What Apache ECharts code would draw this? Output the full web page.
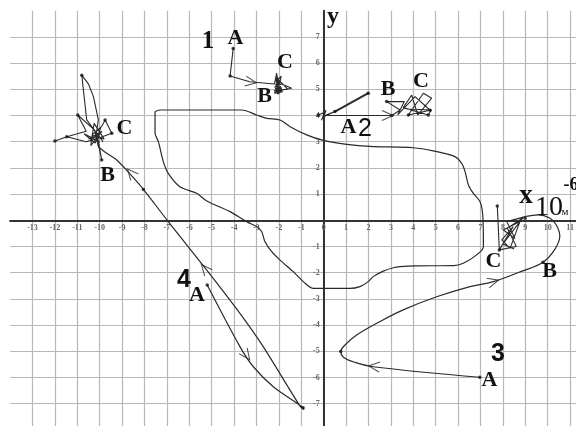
<!DOCTYPE html>
<html>
<head>
<meta charset="utf-8">
<script src="https://cdn.jsdelivr.net/npm/echarts@6/dist/echarts.min.js"></script>
<style>
  html, body { margin: 0; padding: 0; background: #fff; }
  #main { width: 576px; height: 426px; }
</style>
</head>
<body>
<div id="main"></div>
<script>
// axis ranges (units of 10^-6 m)
var xMin = -14, xMax = 12;
var yMin = -8, yMax = 8;

// big closed contour
var loop = [[-7.53,4.15],[-7.31,4.21],[-3.66,4.21],[-2.99,4.02],[-2.54,3.89],[-1.95,3.83],[-1.50,3.57],
  [-0.76,3.26],[-0.02,3.05],[1.03,2.90],[2.07,2.82],[4.0,2.77],[4.89,2.65],[5.86,2.43],[6.16,2.17],
  [6.31,1.86],[6.46,1.35],[6.68,1.03],[6.98,0.71],[7.10,0.20],[7.13,-1.01],[6.83,-1.32],[6.23,-1.64],
  [5.79,-1.73],[4.15,-1.74],[3.41,-1.77],[3.11,-1.81],[2.66,-1.94],[2.21,-2.15],[1.99,-2.34],[1.62,-2.53],
  [1.17,-2.60],[-0.46,-2.60],[-0.91,-2.34],[-1.36,-1.96],[-1.95,-1.52],[-2.32,-1.20],[-2.62,-0.82],
  [-2.77,-0.43],[-2.99,-0.24],[-3.44,-0.05],[-4.18,0.33],[-5.22,0.74],[-5.67,1.03],[-6.42,1.28],
  [-6.94,1.79],[-7.16,2.24],[-7.38,3.0],[-7.53,3.32],[-7.53,4.02],[-7.53,4.15]];

// trajectory 1
var path1 = [[-4.04,6.56],[-4.18,5.51],[-3.3,5.29],[-2.2,5.2],[-2.1,5.62],[-2.02,4.85],[-2.14,5.45],
  [-1.92,4.95],[-2.12,5.3],[-1.9,5.5],[-2.05,4.82],[-2.18,5.1],[-1.88,5.2],[-1.43,5.04],[-2.0,4.95],
  [-2.17,4.9],[-1.95,5.35],[-2.08,5.0],[-2.2,4.85],[-1.85,4.9],[-2.1,5.55],[-1.98,4.88],[-2.15,5.2],
  [-1.9,4.92],[-2.22,4.95],[-1.6,5.0],[-2.05,5.4],[-2.0,4.82],[-2.12,4.98],[-1.87,5.05]];

// trajectory 2
var path2 = [[-0.24,4.02],[0.05,4.12],[-0.1,3.82],[0.1,4.2],[0.0,3.95],[0.5,4.15],[0.05,4.0],[3.04,4.0],
  [3.41,4.21],[2.81,4.53],[3.6,4.53],[3.3,4.02],[4.08,4.72],[4.75,4.2],[3.78,4.02],[4.45,4.85],[4.82,4.66],
  [4.2,4.02],[3.93,4.78],[3.55,4.3],[4.67,4.02],[4.8,4.21],[3.7,4.25]];
var spur2 = [[0.5,4.15],[1.99,4.85]];

// trajectory 3
var path3 = [[6.97,-5.99],[2.21,-5.59],[1.32,-5.40],[0.88,-5.23],[0.76,-5.01],[0.95,-4.76],[1.47,-4.38],
  [2.37,-3.93],[3.55,-3.42],[5.04,-2.92],[6.53,-2.53],[7.57,-2.34],[8.82,-1.95],[9.79,-1.60],[10.31,-1.12],
  [10.54,-0.61],[10.38,-0.17],[10.09,0.09],[9.57,0.21],[9.04,0.15]];
var knot3 = [[9.04,0.15],[8.99,0.08],[8.17,-0.05],[8.54,-0.69],[8.02,-0.37],[8.76,-0.05],[8.32,-1.07],
  [7.95,-0.75],[8.46,-0.24],[7.84,-1.13],[7.75,0.55],[7.84,-1.13],[8.6,-1.0],[8.2,-0.3],[8.9,0.1],
  [8.0,-0.9],[8.5,-1.1]];

// trajectory 4
var path4 = [[-5.20,-2.47],[-3.74,-4.82],[-3.14,-5.59],[-2.25,-6.35],[-0.98,-7.11],[-0.88,-7.22],
  [-1.06,-7.09],[-2.70,-4.82],[-3.74,-3.55],[-5.22,-1.90],[-6.94,-0.05],[-8.05,1.18],[-8.65,1.77],
  [-9.24,2.30],[-9.69,2.56],[-10.06,2.81]];
var knot4 = [[-10.06,2.81],[-10.2,3.35],[-9.9,3.6],[-9.76,3.83],[-9.46,3.32],[-10.0,3.15],[-10.6,3.0],
  [-11.47,3.19],[-12.0,3.03],[-11.47,3.19],[-10.6,3.4],[-10.98,4.02],[-10.3,3.5],[-9.85,3.0],
  [-10.58,3.83],[-10.8,5.54],[-10.5,5.2],[-10.28,4.72],[-10.06,3.83],[-10.15,3.3],[-9.91,2.3],
  [-10.1,3.2],[-10.5,3.1],[-9.9,3.4],[-10.4,2.85],[-10.25,3.7],[-9.8,3.1],[-10.35,3.25],[-9.95,3.55],
  [-10.2,2.95],[-10.7,3.3],[-10.0,3.0]];

// marked points
var dots = [[-4.04,6.56],[-4.18,5.51],[-0.24,4.02],[0.5,4.15],[1.99,4.85],[3.04,4.0],[3.78,4.02],
  [4.67,4.02],[4.75,4.2],[2.81,4.53],[6.97,-5.99],[9.79,-1.60],[0.76,-5.01],[7.84,-1.13],[7.75,0.55],
  [8.99,0.08],[-5.20,-2.47],[-8.05,1.18],[-0.92,-7.15],[-10.8,5.54],[-9.91,2.3],[-12.0,3.03],
  [-11.47,3.19],[-10.98,4.02],[-9.46,3.32],[-9.76,3.83]];

// arrow heads: [from, to], tip at "to"
var arrows = [
  [[-3.6,5.33],[-3.25,5.28]],
  [[2.5,4.0],[2.85,4.0]],
  [[2.7,-5.62],[2.25,-5.58]],
  [[7.0,-2.47],[7.57,-2.34]],
  [[-3.74,-4.82],[-3.45,-5.15]],
  [[-4.9,-2.25],[-5.3,-1.85]],
  [[-8.2,1.4],[-8.6,1.8]]
];

// plot box in pixels: x -14..12, y -8..8
var gLeft = 10.1, gTop = 10.7, gW = 582.4, gH = 419.2;
var W = 576, H = 426;

var chart = echarts.init(document.getElementById('main'));

function lineSeries(data, width, smooth) {
  return {
    type: 'line', data: data, showSymbol: false, smooth: smooth || false,
    lineStyle: { color: '#2a2a2a', width: width }, z: 3, silent: true
  };
}

var serif = '"Liberation Serif", "DejaVu Serif", serif';
var sans = '"Liberation Sans", Arial, sans-serif';

function txt(t, x, y, font) {
  return { type: 'text', x: x, y: y, z: 10,
    style: { text: t, font: font, fill: '#111', textAlign: 'center', textVerticalAlign: 'middle' } };
}

var big = 'bold 22px ' + serif;

// pixel offsets that bring the axes onto the zero lines
var zeroY = gTop + gH * (yMax / (yMax - yMin));
var zeroX = gLeft + gW * (-xMin / (xMax - xMin));

var option = {
  animation: false,
  backgroundColor: '#fff',
  grid: {
    left: gLeft, top: gTop, right: W - gLeft - gW, bottom: H - gTop - gH,
    containLabel: false, outerBoundsMode: 'none'
  },
  xAxis: {
    type: 'value', min: xMin, max: xMax, interval: 1, position: 'bottom',
    offset: -(gTop + gH - zeroY),
    axisLine: { onZero: false, lineStyle: { color: '#333', width: 2 } },
    axisTick: { show: false },
    axisLabel: {
      margin: 4, fontSize: 8, fontWeight: 'bold', color: '#666', fontFamily: serif,
      formatter: function (v) { return (v <= xMin || v >= xMax) ? '' : String(v); }
    },
    splitLine: { show: true, showMinLine: false, showMaxLine: false, lineStyle: { color: '#b8b8b8', width: 1.2 } }
  },
  yAxis: {
    type: 'value', min: yMin, max: yMax, interval: 1, position: 'left',
    offset: -(zeroX - gLeft),
    axisLine: { onZero: false, lineStyle: { color: '#333', width: 2 } },
    axisTick: { show: false },
    axisLabel: {
      margin: 4, fontSize: 8, fontWeight: 'bold', color: '#666', fontFamily: serif,
      formatter: function (v) { return (v === 0 || v <= yMin || v >= yMax) ? '' : String(v); }
    },
    splitLine: { show: true, showMinLine: false, showMaxLine: false, lineStyle: { color: '#b8b8b8', width: 1.2 } }
  },
  series: [
    lineSeries(loop, 1.2, 0.3),
    lineSeries(path1, 1.1),
    lineSeries(path2, 1.1),
    lineSeries(spur2, 2),
    lineSeries(path3, 1.2, 0.4),
    lineSeries(knot3, 1.1),
    lineSeries(path4, 1.2, 0.3),
    lineSeries(knot4, 1.1),
    {
      type: 'scatter', data: dots, symbolSize: 3.5, z: 4, silent: true,
      itemStyle: { color: '#111' }
    },
    {
      id: 'arrows', type: 'scatter', z: 5, silent: true,
      symbol: 'path://M0,0L10,5L0,10', symbolSize: [11, 10],
      itemStyle: { color: 'transparent', borderColor: '#2a2a2a', borderWidth: 1.1 },
      data: arrows.map(function (a) { return a[1]; })
    }
  ],
  graphic: [
    txt('1', 208, 42, 'bold 25px ' + serif),
    txt('A', 235.5, 38, big),
    txt('C', 285, 62, big),
    txt('B', 264.5, 96, big),
    txt('y', 333, 17, 'bold 24px ' + serif),
    txt('B', 388, 89, big),
    txt('C', 421, 81, big),
    txt('A', 348.5, 127, big),
    txt('2', 365, 129, '25px ' + sans),
    txt('x', 526, 196, 'bold 27px ' + serif),
    txt('10', 549, 208, '28px ' + serif),
    txt('-6', 571, 185, 'bold 18px ' + serif),
    txt('м', 565, 212, '11px ' + serif),
    txt('C', 493.5, 261, big),
    txt('B', 549.5, 271, big),
    txt('3', 498, 354, 'bold 25px ' + sans),
    txt('A', 489.5, 380, big),
    txt('C', 124.5, 128, big),
    txt('B', 107.5, 175, big),
    txt('4', 184, 280, 'bold 25px ' + sans),
    txt('A', 197, 295, big)
  ]
};

chart.setOption(option);

// orient the arrow heads along the path direction on screen
var arrowData = arrows.map(function (a) {
  var p1 = chart.convertToPixel({ gridIndex: 0 }, a[0]);
  var p2 = chart.convertToPixel({ gridIndex: 0 }, a[1]);
  var ang = Math.atan2(-(p2[1] - p1[1]), p2[0] - p1[0]) * 180 / Math.PI;
  return { value: a[1], symbolRotate: ang };
});
chart.setOption({ series: [{ id: 'arrows', data: arrowData }] });
</script>
</body>
</html>
